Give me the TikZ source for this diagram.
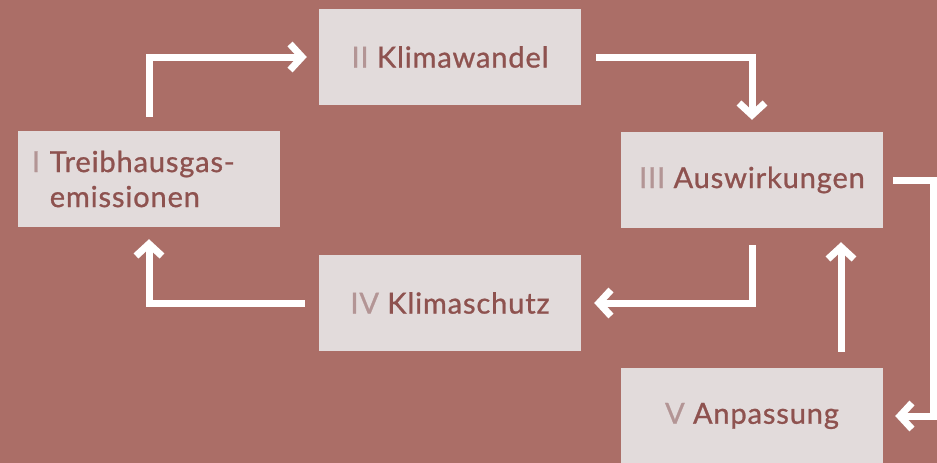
\documentclass[tikz,border=0pt]{standalone}
\usepackage{fontspec}
\setmainfont{Lato}[RawFeature={embolden=0.9}, LetterSpace=3]
\usetikzlibrary{arrows.meta}
\definecolor{bgred}{HTML}{AB6E67}
\definecolor{boxgrey}{HTML}{E2DBDB}
\definecolor{txtred}{HTML}{8E524F}
\definecolor{numgrey}{HTML}{B39595}
\newcommand{\rom}[1]{\textcolor{numgrey}{#1}}
\begin{document}
\begin{tikzpicture}[x=1pt,y=-1pt,
  box/.style={fill=boxgrey, text=txtred, minimum width=262pt, minimum height=96pt,
    inner sep=0pt, font=\fontsize{29}{35}\selectfont},
  flow/.style={draw=white, line width=7pt, -{Straight Barb[length=12pt,width=26pt]}}]
\useasboundingbox[fill=bgred] (0,0) rectangle (937,463);
\node[box, text width=234pt, align=left] (emis) at (149,179)
  {\rom{I} Treibhausgas-\\\hphantom{\rom{I} }emissionen};
\node[box] (klima) at (450,57) {\rom{II} Klimawandel};
\node[box] (ausw) at (752,180) {\rom{III} Auswirkungen};
\node[box] (schutz) at (450,303) {\rom{IV} Klimaschutz};
\node[box] (anp) at (752,416) {\rom{V} Anpassung};
\draw [flow, shorten <=14pt, shorten >=12pt] (emis.north) |- (klima.west);
\draw [flow, shorten <=15pt, shorten >=12pt] (klima.east) -| (ausw.north);
\draw [flow, shorten <=17pt, shorten >=13pt] (ausw.south) |- (schutz.east);
\draw [flow, shorten <=14pt, shorten >=12pt] (schutz.west) -| (emis.south);
\draw [flow, shorten <=16pt, shorten >=14pt] ([xshift=89pt]anp.north) -- ([xshift=89pt]ausw.south);
\draw [flow, shorten <=10pt, shorten >=12pt] (ausw.east) -- ++(50,0) |- (anp.east);
\end{tikzpicture}
\end{document}
